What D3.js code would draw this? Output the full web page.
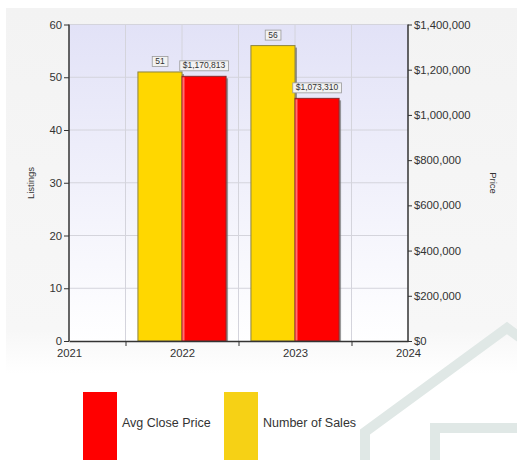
<!DOCTYPE html>
<html>
<head>
<meta charset="utf-8">
<script src="https://cdn.jsdelivr.net/npm/d3@7"></script>
<style>
  html, body { margin: 0; padding: 0; background: #fff; }
  svg { display: block; font-family: "Liberation Sans", Arial, sans-serif; }
</style>
</head>
<body>
<svg id="chart" width="517" height="460"></svg>
<script>
// ---- Data ----
const years = [2022, 2023];
const numberOfSales = [51, 56];
const avgClosePrice = [1170813, 1073310];
const yearTicks = [2021, 2022, 2023, 2024];
const listingTicks = [0, 10, 20, 30, 40, 50, 60];
const priceTicks = [0, 200000, 400000, 600000, 800000, 1000000, 1200000, 1400000];
const legendItems = [
  {label: 'Avg Close Price', color: '#ff0000'},
  {label: 'Number of Sales', color: '#f6d115'}
];

// ---- Layout ----
const svg = d3.select('#chart');
const W = 517, H = 460;
const plot = {left: 69, right: 408, top: 24.5, bottom: 341};

// ---- Scales ----
const x = d3.scaleLinear().domain([2021, 2024]).range([plot.left, plot.right]);
const yL = d3.scaleLinear().domain([0, 60]).range([plot.bottom, plot.top]);
const yR = d3.scaleLinear().domain([0, 1400000]).range([plot.bottom, plot.top]);
const barW = x(2021.39) - x(2021);

const fmtPrice = v => '$' + d3.format(',')(v);

// ---- Defs ----
const defs = svg.append('defs');
const pg = defs.append('linearGradient').attr('id', 'panelGrad').attr('x1', 0).attr('y1', 0).attr('x2', 0).attr('y2', 1);
pg.append('stop').attr('offset', '0%').attr('stop-color', '#f3f3f3');
pg.append('stop').attr('offset', '88%').attr('stop-color', '#f7f7f7');
pg.append('stop').attr('offset', '100%').attr('stop-color', '#ffffff');
const ag = defs.append('linearGradient').attr('id', 'plotGrad').attr('x1', 0).attr('y1', 0).attr('x2', 0).attr('y2', 1);
ag.append('stop').attr('offset', '0%').attr('stop-color', '#e2e2f7');
ag.append('stop').attr('offset', '100%').attr('stop-color', '#ffffff');

// ---- Background panel ----
svg.append('rect').attr('x', 6).attr('y', 8).attr('width', W - 6).attr('height', 366)
  .attr('fill', 'url(#panelGrad)');

// ---- House watermark ----
const wm = svg.append('g').attr('fill', 'none').attr('stroke', '#e0e8e6').attr('stroke-width', 10)
  .attr('stroke-linejoin', 'miter');
wm.append('path').attr('d', 'M365,465 L365,432 L507,328 L530,345');
wm.append('path').attr('d', 'M435,465 L435,428 L525,428');

// ---- Plot area ----
svg.append('rect').attr('x', plot.left).attr('y', plot.top)
  .attr('width', plot.right - plot.left).attr('height', plot.bottom - plot.top)
  .attr('fill', 'url(#plotGrad)');

// gridlines
svg.append('g').selectAll('line.hg').data(listingTicks.slice(1)).join('line')
  .attr('x1', plot.left).attr('x2', plot.right)
  .attr('y1', d => yL(d)).attr('y2', d => yL(d))
  .attr('stroke', '#d4d4dc').attr('stroke-width', 1);
svg.append('g').selectAll('line.vg').data(d3.range(2021.5, 2024, 0.5)).join('line')
  .attr('x1', d => x(d)).attr('x2', d => x(d))
  .attr('y1', plot.top).attr('y2', plot.bottom)
  .attr('stroke', '#d4d4dc').attr('stroke-width', 1);

// ---- Bars ----
function drawBar(g, x0, yTop, fill, edge, highlight) {
  const h = plot.bottom - yTop;
  g.append('rect').attr('x', x0 + 2).attr('y', yTop + 2).attr('width', barW).attr('height', h - 2)
    .attr('fill', '#6f6f6f').attr('opacity', 0.7);
  g.append('rect').attr('x', x0).attr('y', yTop).attr('width', barW).attr('height', h)
    .attr('fill', fill).attr('stroke', edge).attr('stroke-width', 1);
  if (highlight) {
    g.append('rect').attr('x', x0 + 0.5).attr('y', yTop + 1).attr('width', 2).attr('height', h - 1.5)
      .attr('fill', highlight);
  }
}
const bars = svg.append('g');
years.forEach((yr, i) => {
  drawBar(bars, x(yr) - barW, yL(numberOfSales[i]), '#ffd700', '#8c8440', null);
  drawBar(bars, x(yr), yR(avgClosePrice[i]), '#ff0000', '#8a2a2a', '#ff7070');
});

// ---- Value labels ----
function valueLabel(cx, yTop, text) {
  const g = svg.append('g');
  const t = g.append('text').attr('x', cx).attr('y', yTop - 8).attr('text-anchor', 'middle')
    .attr('font-size', 8.5).attr('fill', '#333').text(text);
  const bb = t.node().getBBox();
  g.insert('rect', 'text').attr('x', bb.x - 3).attr('y', yTop - 15.5)
    .attr('width', bb.width + 6).attr('height', 10)
    .attr('fill', '#f2f2f2').attr('stroke', '#9a9a9a').attr('stroke-width', 0.8);
}
years.forEach((yr, i) => {
  valueLabel(x(yr) - barW / 2, yL(numberOfSales[i]), String(numberOfSales[i]));
  valueLabel(x(yr) + barW / 2, yR(avgClosePrice[i]), fmtPrice(avgClosePrice[i]));
});

// ---- Axes ----
const axisColor = '#333';
const leftAxis = svg.append('g').attr('transform', `translate(${plot.left},0)`)
  .call(d3.axisLeft(yL).tickValues(listingTicks).tickSize(5).tickPadding(2));
const rightAxis = svg.append('g').attr('transform', `translate(${plot.right},0)`)
  .call(d3.axisRight(yR).tickValues(priceTicks).tickFormat(fmtPrice).tickSize(4).tickPadding(2));
const bottomAxis = svg.append('g').attr('transform', `translate(0,${plot.bottom})`)
  .call(d3.axisBottom(x).tickValues(yearTicks).tickFormat(d3.format('d')).tickSize(0).tickPadding(8));
svg.append('g').attr('transform', `translate(0,${plot.bottom})`)
  .call(d3.axisBottom(x).tickValues(d3.range(2021.5, 2024, 1)).tickFormat('').tickSize(5))
  .select('.domain').remove();

[leftAxis, rightAxis, bottomAxis].forEach(a => {
  a.select('.domain').attr('stroke', axisColor).attr('stroke-width', 1.5);
  a.selectAll('.tick line').attr('stroke', axisColor);
  a.selectAll('.tick text').attr('fill', '#333').attr('font-size', 11.3)
    .attr('font-family', '"Liberation Sans", Arial, sans-serif');
});
leftAxis.select('.domain').attr('d', `M0,${plot.top}V${plot.bottom}`);
rightAxis.select('.domain').attr('d', `M0,${plot.top}V${plot.bottom}`);
svg.selectAll('.tick line').attr('stroke', axisColor);

// axis titles
svg.append('text').attr('transform', `translate(34,183) rotate(-90)`).attr('text-anchor', 'middle')
  .attr('font-size', 9.5).attr('fill', '#333').text('Listings');
svg.append('text').attr('transform', `translate(490,183) rotate(90)`).attr('text-anchor', 'middle')
  .attr('font-size', 9.5).attr('fill', '#333').text('Price');

// ---- Legend ----
const legendX = [83, 224];
const lg = svg.append('g');
legendItems.forEach((d, i) => {
  lg.append('rect').attr('x', legendX[i]).attr('y', 392).attr('width', 34).attr('height', 70).attr('fill', d.color);
  lg.append('text').attr('x', legendX[i] + 39).attr('y', 427).attr('font-size', 12.5)
    .attr('fill', '#333').text(d.label);
});
</script>
</body>
</html>
